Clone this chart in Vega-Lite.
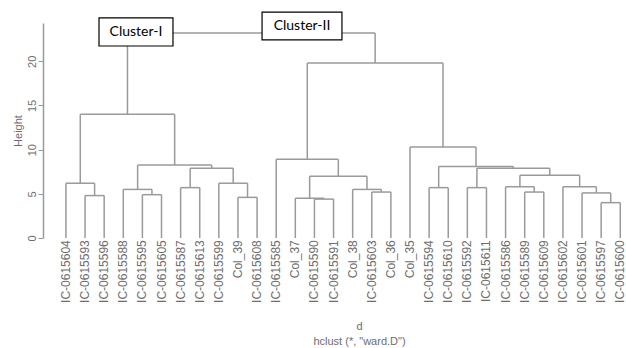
{
  "$schema": "https://vega.github.io/schema/vega-lite/v6.json",
  "autosize": {"type": "none"},
  "padding": {"left": 43, "top": 23, "right": 0, "bottom": 110},
  "width": 583,
  "height": 215,
  "config": {"view": {"stroke": null}, "font": "Liberation Sans"},
  "datasets": {
    "merges": [
      {"lx": 2, "rx": 3, "h": 4.8, "lh": 0, "rh": 0},
      {"lx": 1, "rx": 2.5, "h": 6.2, "lh": 0, "rh": 4.8},
      {"lx": 5, "rx": 6, "h": 4.9, "lh": 0, "rh": 0},
      {"lx": 4, "rx": 5.5, "h": 5.5, "lh": 0, "rh": 4.9},
      {"lx": 7, "rx": 8, "h": 5.7, "lh": 0, "rh": 0},
      {"lx": 10, "rx": 11, "h": 4.6, "lh": 0, "rh": 0},
      {"lx": 9, "rx": 10.5, "h": 6.2, "lh": 0, "rh": 4.6},
      {"lx": 7.5, "rx": 9.75, "h": 7.9, "lh": 5.7, "rh": 6.2},
      {"lx": 4.75, "rx": 8.625, "h": 8.25, "lh": 5.5, "rh": 7.9},
      {"lx": 1.75, "rx": 6.6875, "h": 14.0, "lh": 6.2, "rh": 8.25},
      {"lx": 14, "rx": 15, "h": 4.4, "lh": 0, "rh": 0},
      {"lx": 13, "rx": 14.5, "h": 4.5, "lh": 0, "rh": 4.4},
      {"lx": 17, "rx": 18, "h": 5.2, "lh": 0, "rh": 0},
      {"lx": 16, "rx": 17.5, "h": 5.5, "lh": 0, "rh": 5.2},
      {"lx": 13.75, "rx": 16.75, "h": 7.0, "lh": 4.5, "rh": 5.5},
      {"lx": 12, "rx": 15.25, "h": 8.9, "lh": 0, "rh": 7.0},
      {"lx": 20, "rx": 21, "h": 5.7, "lh": 0, "rh": 0},
      {"lx": 22, "rx": 23, "h": 5.7, "lh": 0, "rh": 0},
      {"lx": 25, "rx": 26, "h": 5.2, "lh": 0, "rh": 0},
      {"lx": 24, "rx": 25.5, "h": 5.8, "lh": 0, "rh": 5.2},
      {"lx": 29, "rx": 30, "h": 4.0, "lh": 0, "rh": 0},
      {"lx": 28, "rx": 29.5, "h": 5.1, "lh": 0, "rh": 4.0},
      {"lx": 27, "rx": 28.75, "h": 5.8, "lh": 0, "rh": 5.1},
      {"lx": 24.75, "rx": 27.875, "h": 7.1, "lh": 5.8, "rh": 5.8},
      {"lx": 22.5, "rx": 26.3125, "h": 7.9, "lh": 5.7, "rh": 7.1},
      {"lx": 20.5, "rx": 24.40625, "h": 8.1, "lh": 5.7, "rh": 7.9},
      {"lx": 19, "rx": 22.453125, "h": 10.3, "lh": 0, "rh": 8.1},
      {"lx": 13.625, "rx": 20.7265625, "h": 19.8, "lh": 8.9, "rh": 10.3},
      {"lx": 4.21875, "rx": 17.17578125, "h": 23.2, "lh": 14.0, "rh": 19.8}
    ],
    "leaves": [
      {"pos": 1, "name": "IC-0615604"},
      {"pos": 2, "name": "IC-0615593"},
      {"pos": 3, "name": "IC-0615596"},
      {"pos": 4, "name": "IC-0615588"},
      {"pos": 5, "name": "IC-0615595"},
      {"pos": 6, "name": "IC-0615605"},
      {"pos": 7, "name": "IC-0615587"},
      {"pos": 8, "name": "IC-0615613"},
      {"pos": 9, "name": "IC-0615599"},
      {"pos": 10, "name": "Col_39"},
      {"pos": 11, "name": "IC-0615608"},
      {"pos": 12, "name": "IC-0615585"},
      {"pos": 13, "name": "Col_37"},
      {"pos": 14, "name": "IC-0615590"},
      {"pos": 15, "name": "IC-0615591"},
      {"pos": 16, "name": "Col_38"},
      {"pos": 17, "name": "IC-0615603"},
      {"pos": 18, "name": "Col_36"},
      {"pos": 19, "name": "Col_35"},
      {"pos": 20, "name": "IC-0615594"},
      {"pos": 21, "name": "IC-0615610"},
      {"pos": 22, "name": "IC-0615592"},
      {"pos": 23, "name": "IC-0615611"},
      {"pos": 24, "name": "IC-0615586"},
      {"pos": 25, "name": "IC-0615589"},
      {"pos": 26, "name": "IC-0615609"},
      {"pos": 27, "name": "IC-0615602"},
      {"pos": 28, "name": "IC-0615601"},
      {"pos": 29, "name": "IC-0615597"},
      {"pos": 30, "name": "IC-0615600"}
    ],
    "boxes": [
      {"label": "Cluster-I", "x1": 2.73, "x2": 6.6, "y1": 21.73, "y2": 24.9, "cx": 4.665, "cy": 23.31},
      {"label": "Cluster-II", "x1": 11.26, "x2": 15.44, "y1": 22.41, "y2": 25.57, "cx": 13.35, "cy": 23.99}
    ]
  },
  "layer": [
    {
      "data": {"name": "merges"},
      "mark": {"type": "rule", "color": "#9a9a9a", "strokeWidth": 1.5},
      "encoding": {
        "x": {"field": "lx", "type": "quantitative", "scale": {"domain": [-0.2, 30.3], "nice": false, "zero": false},
          "axis": {"title": ["d", "hclust (*, \"ward.D\")"], "labels": false, "ticks": false, "domain": false, "grid": false,
            "titleX": 316, "titleY": 82, "titleBaseline": "top", "titleFont": "Liberation Sans", "titleFontSize": 11, "titleFontWeight": "normal", "titleColor": "#6e6e6e", "titleLineHeight": 15}},
        "x2": {"field": "rx"},
        "y": {"field": "h", "type": "quantitative", "scale": {"domain": [0, 24.33], "nice": false, "zero": false},
          "axis": {"title": "Height", "values": [0, 5, 10, 15, 20], "grid": false, "labelAngle": -90, "labelAlign": "center", "labelBaseline": "bottom",
            "labelFont": "Liberation Sans", "labelFontSize": 11, "labelColor": "#6e6e6e", "labelPadding": 1,
            "domainColor": "#9a9a9a", "tickColor": "#9a9a9a", "tickSize": 5, "domainWidth": 1.5, "tickWidth": 1,
            "titleFont": "Liberation Sans", "titleFontSize": 11, "titleFontWeight": "normal", "titleColor": "#6e6e6e", "titlePadding": 3}}
      }
    },
    {
      "data": {"name": "merges"},
      "mark": {"type": "rule", "color": "#9a9a9a", "strokeWidth": 1.5},
      "encoding": {
        "x": {"field": "lx", "type": "quantitative"},
        "y": {"field": "lh", "type": "quantitative"},
        "y2": {"field": "h"}
      }
    },
    {
      "data": {"name": "merges"},
      "mark": {"type": "rule", "color": "#9a9a9a", "strokeWidth": 1.5},
      "encoding": {
        "x": {"field": "rx", "type": "quantitative"},
        "y": {"field": "rh", "type": "quantitative"},
        "y2": {"field": "h"}
      }
    },
    {
      "data": {"name": "leaves"},
      "mark": {"type": "text", "angle": 270, "align": "right", "baseline": "middle", "font": "Liberation Sans", "fontSize": 12, "color": "#6e6e6e"},
      "encoding": {
        "x": {"field": "pos", "type": "quantitative"},
        "y": {"datum": -0.25},
        "text": {"field": "name"}
      }
    },
    {
      "data": {"name": "boxes"},
      "mark": {"type": "rect", "fill": "white", "stroke": "black", "strokeWidth": 1.2},
      "encoding": {
        "x": {"field": "x1", "type": "quantitative"},
        "x2": {"field": "x2"},
        "y": {"field": "y1", "type": "quantitative"},
        "y2": {"field": "y2"}
      }
    },
    {
      "data": {"name": "boxes"},
      "mark": {"type": "text", "font": "Lato", "fontSize": 14, "color": "black", "align": "center", "baseline": "middle"},
      "encoding": {
        "x": {"field": "cx", "type": "quantitative"},
        "y": {"field": "cy", "type": "quantitative"},
        "text": {"field": "label"}
      }
    }
  ]
}
